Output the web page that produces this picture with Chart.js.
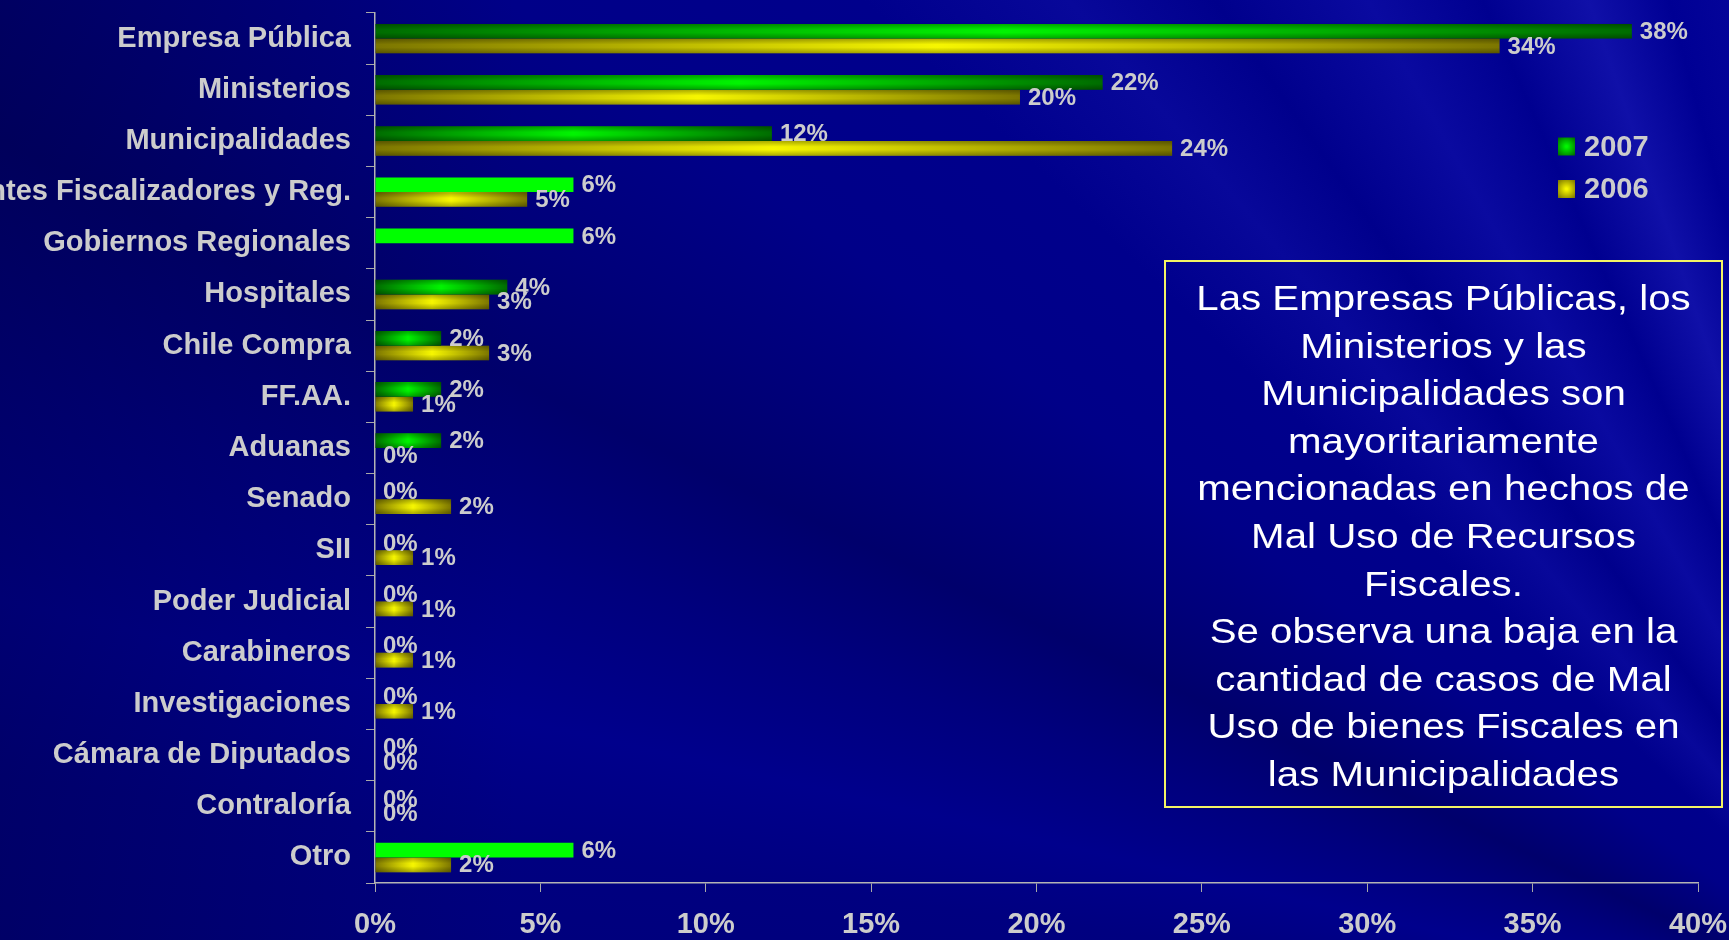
<!DOCTYPE html>
<html lang="es">
<head>
<meta charset="utf-8">
<title>Mal uso de recursos fiscales</title>
<script src="https://cdn.jsdelivr.net/npm/chart.js@4.4.1/dist/chart.umd.min.js"></script>
<style>
  html, body { margin: 0; padding: 0; }
  body {
    width: 1729px; height: 940px; overflow: hidden; position: relative;
    background:
      linear-gradient(90deg, rgba(0,0,40,0.25) 0%, rgba(0,0,40,0) 30%),
      conic-gradient(at 1950px 1050px,
        #000078 268deg, #000080 278deg, #00008c 283deg, #00007e 289deg,
        #00006c 295deg, #00007a 300deg, #000088 306deg, #00008c 314deg,
        #08089a 320deg, #00008c 325deg, #0a0aa0 331deg, #000090 336deg,
        #1010a8 341deg, #000094 345deg, #0a0aa0 352deg);
    font-family: "Liberation Sans", Arial, sans-serif;
  }
  #grafico { position: absolute; left: 0; top: 0; }
  .nota {
    position: absolute; left: 1164px; top: 260px; width: 559px; height: 548px;
    box-sizing: border-box; border: 2px solid #f4f464;
    padding-top: 12px; text-align: center; color: #ffffff;
    font-size: 35px; line-height: 47.6px;
  }
  .nota div { transform: scaleX(1.15); transform-origin: 50% 0; white-space: nowrap; }
</style>
</head>
<body>
<canvas id="grafico" width="1729" height="940"></canvas>
<div class="nota"><div>Las Empresas Públicas, los<br>Ministerios y las<br>Municipalidades son<br>mayoritariamente<br>mencionadas en hechos de<br>Mal Uso de Recursos<br>Fiscales.<br>Se observa una baja en la<br>cantidad de casos de Mal<br>Uso de bienes Fiscales en<br>las Municipalidades</div></div>
<script>
// ---------- datos ----------
const categorias = ['Empresa Pública', 'Ministerios', 'Municipalidades', 'Entes Fiscalizadores y Reg.',
    'Gobiernos Regionales', 'Hospitales', 'Chile Compra', 'FF.AA.', 'Aduanas', 'Senado', 'SII',
    'Poder Judicial', 'Carabineros', 'Investigaciones', 'Cámara de Diputados', 'Contraloría', 'Otro'];
const series = ['2007', '2006'];
const valores2007 = [38, 22, 12, 6, 6, 4, 2, 2, 2, 0, 0, 0, 0, 0, 0, 0, 6];
const valores2006 = [34, 19.5, 24.1, 4.6, null, 3.45, 3.45, 1.15, 0, 2.3, 1.15, 1.15, 1.15, 1.15, 0, 0, 2.3];
const ticksX = [0, 5, 10, 15, 20, 25, 30, 35, 40];

// barras 2007 con relleno plano (sin degradado)
const planos2007 = [3, 4, 16];

const FUENTE = '"Liberation Sans", Arial, sans-serif';
const GRIS = '#cccccc';
const VERDE = ['#006c00', '#00f400'];
const AMARILLO = ['#7c7600', '#f6f600'];

// degradado horizontal: oscuro en los extremos, claro al centro
function degradado(ctx, colores, planos) {
    if (planos && planos.indexOf(ctx.dataIndex) >= 0) return '#00ff00';
    const chart = ctx.chart, x = chart.scales.x;
    if (!x || ctx.raw == null) return colores[1];
    const x0 = x.getPixelForValue(0), x1 = x.getPixelForValue(ctx.raw);
    if (!isFinite(x0) || !isFinite(x1) || x1 - x0 < 1) return colores[1];
    const g = chart.ctx.createLinearGradient(x0, 0, x1, 0);
    g.addColorStop(0, colores[0]);
    g.addColorStop(0.5, colores[1]);
    g.addColorStop(1, colores[0]);
    return g;
}

// sombreado vertical sobre las barras con degradado
const sombreado = {
    id: 'sombreado',
    afterDatasetsDraw(chart) {
        const c = chart.ctx;
        chart.data.datasets.forEach(function (ds, i) {
            chart.getDatasetMeta(i).data.forEach(function (el, j) {
                if (ds.data[j] == null || (i === 0 && planos2007.indexOf(j) >= 0)) return;
                const p = el.getProps(['x', 'y', 'base', 'height'], true);
                if (!isFinite(p.y) || p.x - p.base < 1) return;
                const top = p.y - p.height / 2;
                const g = c.createLinearGradient(0, top, 0, top + p.height);
                g.addColorStop(0, 'rgba(0,0,0,0.30)');
                g.addColorStop(0.4, 'rgba(0,0,0,0)');
                g.addColorStop(0.6, 'rgba(0,0,0,0)');
                g.addColorStop(1, 'rgba(0,0,0,0.30)');
                c.save();
                c.fillStyle = g;
                c.fillRect(p.base, top, p.x - p.base, p.height);
                c.restore();
            });
        });
    }
};

// etiquetas de valor al final de cada barra
const etiquetas = {
    id: 'etiquetas',
    afterDatasetsDraw(chart) {
        const c = chart.ctx;
        c.save();
        c.font = 'bold 24px ' + FUENTE;
        c.fillStyle = GRIS;
        c.textBaseline = 'middle';
        c.textAlign = 'left';
        chart.data.datasets.forEach(function (ds, i) {
            chart.getDatasetMeta(i).data.forEach(function (el, j) {
                const v = ds.data[j];
                if (v == null) return;
                c.fillText(Math.round(v) + '%', el.x + 8, el.y + 1);
            });
        });
        c.restore();
    }
};

// leyenda arriba a la derecha
const leyenda = {
    id: 'leyenda',
    afterDraw(chart) {
        const c = chart.ctx;
        c.save();
        c.font = 'bold 29px ' + FUENTE;
        c.textBaseline = 'middle';
        chart.data.datasets.forEach(function (ds, i) {
            const cy = 146.5 + i * 42.5, x = 1558, s = 17;
            const col = i === 0 ? VERDE : AMARILLO;
            const g = c.createRadialGradient(x + s / 2, cy, 1, x + s / 2, cy, s * 0.7);
            g.addColorStop(0, col[1]);
            g.addColorStop(1, col[0]);
            c.fillStyle = g;
            c.fillRect(x, cy - 9, s, 18);
            c.fillStyle = GRIS;
            c.fillText(ds.label, 1584, cy + 1);
        });
        c.restore();
    }
};

new Chart(document.getElementById('grafico'), {
    type: 'bar',
    data: {
        labels: categorias,
        datasets: [{
            label: series[0],
            data: valores2007,
            backgroundColor: function (ctx) { return degradado(ctx, VERDE, planos2007); }
        }, {
            label: series[1],
            data: valores2006,
            backgroundColor: function (ctx) { return degradado(ctx, AMARILLO, null); }
        }]
    },
    options: {
        indexAxis: 'y',
        responsive: false,
        animation: false,
        devicePixelRatio: 1,
        categoryPercentage: 0.575,
        barPercentage: 1,
        layout: { autoPadding: false, padding: { top: 13, right: 31, left: 0, bottom: 0 } },
        plugins: {
            legend: { display: false },
            tooltip: { enabled: false }
        },
        scales: {
            x: {
                min: 0,
                max: 40,
                afterBuildTicks: function (scale) {
                    scale.ticks = ticksX.map(function (v) { return { value: v }; });
                },
                afterFit: function (scale) {
                    scale.height = 57;
                    scale.paddingLeft = 0;
                    scale.paddingRight = 0;
                },
                grid: { drawOnChartArea: false, tickLength: 9, color: '#a8a8a8', lineWidth: 1 },
                border: { color: '#b4b4b4', width: 1.5 },
                ticks: {
                    color: GRIS,
                    padding: 16,
                    maxRotation: 0,
                    font: { family: FUENTE, size: 29, weight: 'bold' },
                    callback: function (v) { return v + '%'; }
                }
            },
            y: {
                afterFit: function (scale) {
                    scale.width = 375;
                    scale.paddingTop = 0;
                    scale.paddingBottom = 0;
                },
                grid: { drawOnChartArea: false, offset: true, tickLength: 9, color: '#a8a8a8', lineWidth: 1 },
                border: { color: '#b4b4b4', width: 1.5 },
                ticks: {
                    color: GRIS,
                    padding: 15,
                    autoSkip: false,
                    font: { family: FUENTE, size: 29, weight: 'bold' }
                }
            }
        }
    },
    plugins: [sombreado, etiquetas, leyenda]
});
</script>
</body>
</html>
